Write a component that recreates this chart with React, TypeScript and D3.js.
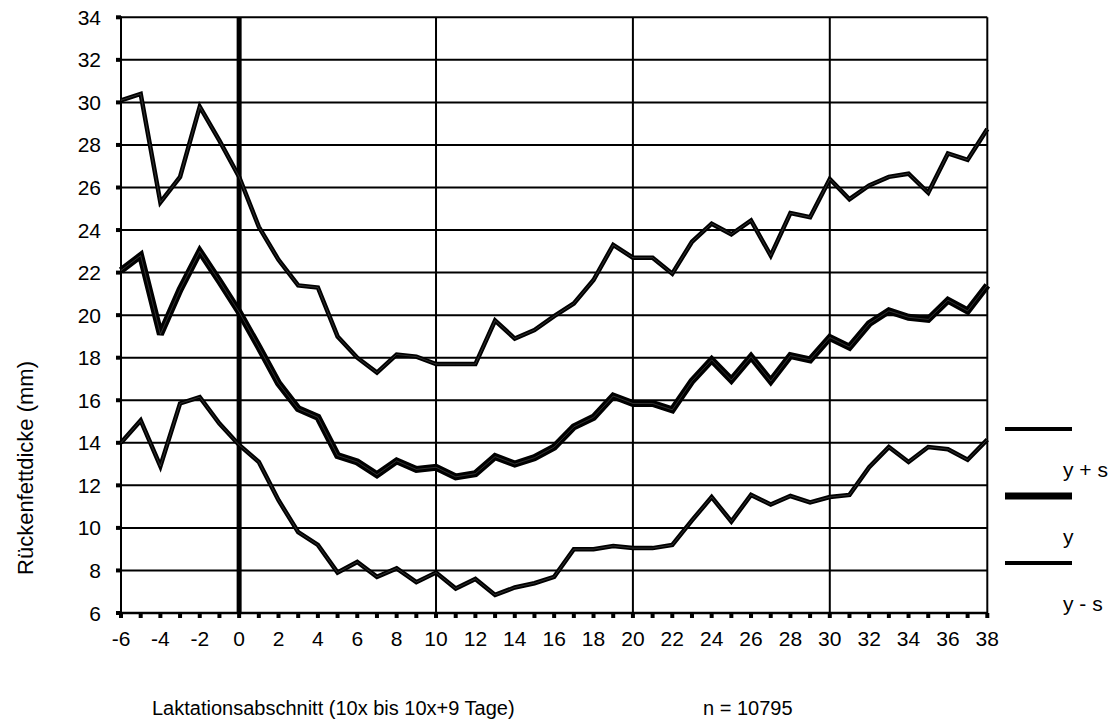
import React, { useEffect, useRef } from "react";
import * as d3 from "d3";

// Laktationsabschnitt (Kategorien)
const abschnitte = [
  -6, -5, -4, -3, -2, -1, 0, 1, 2, 3, 4, 5, 6, 7, 8, 9, 10, 11, 12, 13, 14, 15,
  16, 17, 18, 19, 20, 21, 22, 23, 24, 25, 26, 27, 28, 29, 30, 31, 32, 33, 34,
  35, 36, 37, 38,
];

// y + s
const oben = [
  30.1, 30.4, 25.3, 26.5, 29.8, 28.2, 26.5, 24.15, 22.6, 21.4, 21.3, 19.0, 18.0,
  17.3, 18.15, 18.05, 17.7, 17.7, 17.7, 19.75, 18.9, 19.3, 19.95, 20.55, 21.65,
  23.3, 22.7, 22.7, 21.95, 23.45, 24.3, 23.8, 24.45, 22.8, 24.8, 24.6, 26.4,
  25.45, 26.1, 26.5, 26.65, 25.75, 27.6, 27.3, 28.75,
];

// y
const mitte = [
  22.1, 22.8, 19.1, 21.2, 23.0, 21.6, 20.15, 18.5, 16.8, 15.6, 15.2, 13.4, 13.1,
  12.5, 13.15, 12.75, 12.85, 12.4, 12.55, 13.35, 13.0, 13.3, 13.8, 14.75, 15.2,
  16.2, 15.85, 15.85, 15.55, 16.9, 17.9, 16.95, 18.05, 16.9, 18.1, 17.9, 18.95,
  18.5, 19.6, 20.2, 19.9, 19.8, 20.7, 20.2, 21.4,
];

// y - s
const unten = [
  14.0, 15.05, 12.9, 15.85, 16.15, 14.9, 13.9, 13.1, 11.3, 9.8, 9.2, 7.9, 8.4,
  7.7, 8.1, 7.45, 7.9, 7.15, 7.6, 6.85, 7.2, 7.4, 7.7, 9.0, 9.0, 9.15, 9.05,
  9.05, 9.2, 10.35, 11.45, 10.3, 11.55, 11.1, 11.5, 11.2, 11.45, 11.55, 12.85,
  13.8, 13.1, 13.8, 13.7, 13.2, 14.15,
];

const yTicks = [6, 8, 10, 12, 14, 16, 18, 20, 22, 24, 26, 28, 30, 32, 34];
const xTickLabels = [
  -6, -4, -2, 0, 2, 4, 6, 8, 10, 12, 14, 16, 18, 20, 22, 24, 26, 28, 30, 32, 34,
  36, 38,
];
const xGrid = [10, 20, 30, 38];
const legende = ["y + s", "y", "y - s"];

const App = () => {
  const ref = useRef<SVGSVGElement | null>(null);

  useEffect(() => {
    const width = 1119;
    const height = 724;
    const font = "'Liberation Sans', Arial, sans-serif";

    const x = d3.scaleLinear().domain([-6, 38]).range([121, 987.3]);
    const y = d3.scaleLinear().domain([6, 34]).range([613, 17.3]);

    const svg = d3
      .select(ref.current)
      .attr("width", width)
      .attr("height", height)
      .attr("viewBox", [0, 0, width, height].join(" "));
    svg.selectAll("*").remove();

    svg.append("rect").attr("width", width).attr("height", height).attr("fill", "#fff");

    // horizontale Gitterlinien
    svg
      .append("g")
      .selectAll("line")
      .data(yTicks.filter((d) => d > 6))
      .join("line")
      .attr("x1", x(-6))
      .attr("x2", x(38))
      .attr("y1", (d) => y(d))
      .attr("y2", (d) => y(d))
      .attr("stroke", "#000")
      .attr("stroke-width", 2);

    // vertikale Gitterlinien
    svg
      .append("g")
      .selectAll("line")
      .data(xGrid)
      .join("line")
      .attr("x1", (d) => x(d))
      .attr("x2", (d) => x(d))
      .attr("y1", y(34))
      .attr("y2", y(6))
      .attr("stroke", "#000")
      .attr("stroke-width", 2);

    // Achsen
    svg
      .append("line")
      .attr("x1", x(-6))
      .attr("x2", x(-6))
      .attr("y1", y(34) - 1)
      .attr("y2", y(6) + 1)
      .attr("stroke", "#000")
      .attr("stroke-width", 2);
    svg
      .append("line")
      .attr("x1", x(-6))
      .attr("x2", x(38))
      .attr("y1", y(6))
      .attr("y2", y(6))
      .attr("stroke", "#000")
      .attr("stroke-width", 2.5);
    svg
      .append("line")
      .attr("x1", x(0))
      .attr("x2", x(0))
      .attr("y1", y(34))
      .attr("y2", y(6))
      .attr("stroke", "#000")
      .attr("stroke-width", 5);

    // Tick-Marken
    svg
      .append("g")
      .selectAll("rect")
      .data(yTicks)
      .join("rect")
      .attr("x", x(-6) - 5)
      .attr("y", (d) => y(d) - 2)
      .attr("width", 5)
      .attr("height", 4)
      .attr("fill", "#000");
    svg
      .append("g")
      .selectAll("rect")
      .data(abschnitte)
      .join("rect")
      .attr("x", (d) => x(d) - 2)
      .attr("y", y(6))
      .attr("width", 4)
      .attr("height", 5)
      .attr("fill", "#000");

    // Tick-Beschriftungen
    svg
      .append("g")
      .selectAll("text")
      .data(yTicks)
      .join("text")
      .attr("x", 101)
      .attr("y", (d) => y(d) + 7.5)
      .attr("text-anchor", "end")
      .attr("font-family", font)
      .attr("font-size", 21)
      .text((d) => d);
    svg
      .append("g")
      .selectAll("text")
      .data(xTickLabels)
      .join("text")
      .attr("x", (d) => x(d))
      .attr("y", 646)
      .attr("text-anchor", "middle")
      .attr("font-family", font)
      .attr("font-size", 21)
      .text((d) => d);

    // Linien
    const line = d3
      .line<number>()
      .x((_, i) => x(abschnitte[i]))
      .y((d) => y(d));

    const reihen: [number[], number][] = [
      [oben, 4.5],
      [mitte, 7],
      [unten, 4.5],
    ];
    reihen.forEach(([werte, breite]) => {
      svg
        .append("path")
        .attr("d", line(werte))
        .attr("fill", "none")
        .attr("stroke", "#000")
        .attr("stroke-width", breite)
        .attr("stroke-linejoin", "miter")
        .attr("stroke-miterlimit", 3);
      svg
        .append("path")
        .attr("d", line(werte))
        .attr("fill", "none")
        .attr("stroke", "#8a8a8a")
        .attr("stroke-width", 0.6)
        .attr("stroke-opacity", 0.6);
    });

    // Legende
    const legY = [429, 496, 563];
    const legW = [4, 7, 4];
    const legTextY = [477, 544, 611];
    legende.forEach((name, i) => {
      svg
        .append("rect")
        .attr("x", 1005)
        .attr("y", legY[i] - legW[i] / 2)
        .attr("width", 67)
        .attr("height", legW[i])
        .attr("fill", "#000");
      svg
        .append("text")
        .attr("x", 1063)
        .attr("y", legTextY[i])
        .attr("font-family", font)
        .attr("font-size", 21)
        .text(name);
    });

    // Achsentitel
    svg
      .append("text")
      .attr("transform", `translate(33, 468) rotate(-90)`)
      .attr("text-anchor", "middle")
      .attr("font-family", font)
      .attr("font-size", 22)
      .text("Rückenfettdicke (mm)");
    svg
      .append("text")
      .attr("x", 152)
      .attr("y", 715)
      .attr("font-family", font)
      .attr("font-size", 20)
      .text("Laktationsabschnitt (10x bis 10x+9 Tage)");
    svg
      .append("text")
      .attr("x", 703)
      .attr("y", 715)
      .attr("font-family", font)
      .attr("font-size", 20)
      .text("n = 10795");
  }, []);

  return (
    <svg
      ref={ref}
      style={{ position: "absolute", left: 0, top: 0, display: "block" }}
    ></svg>
  );
};

export default App;
